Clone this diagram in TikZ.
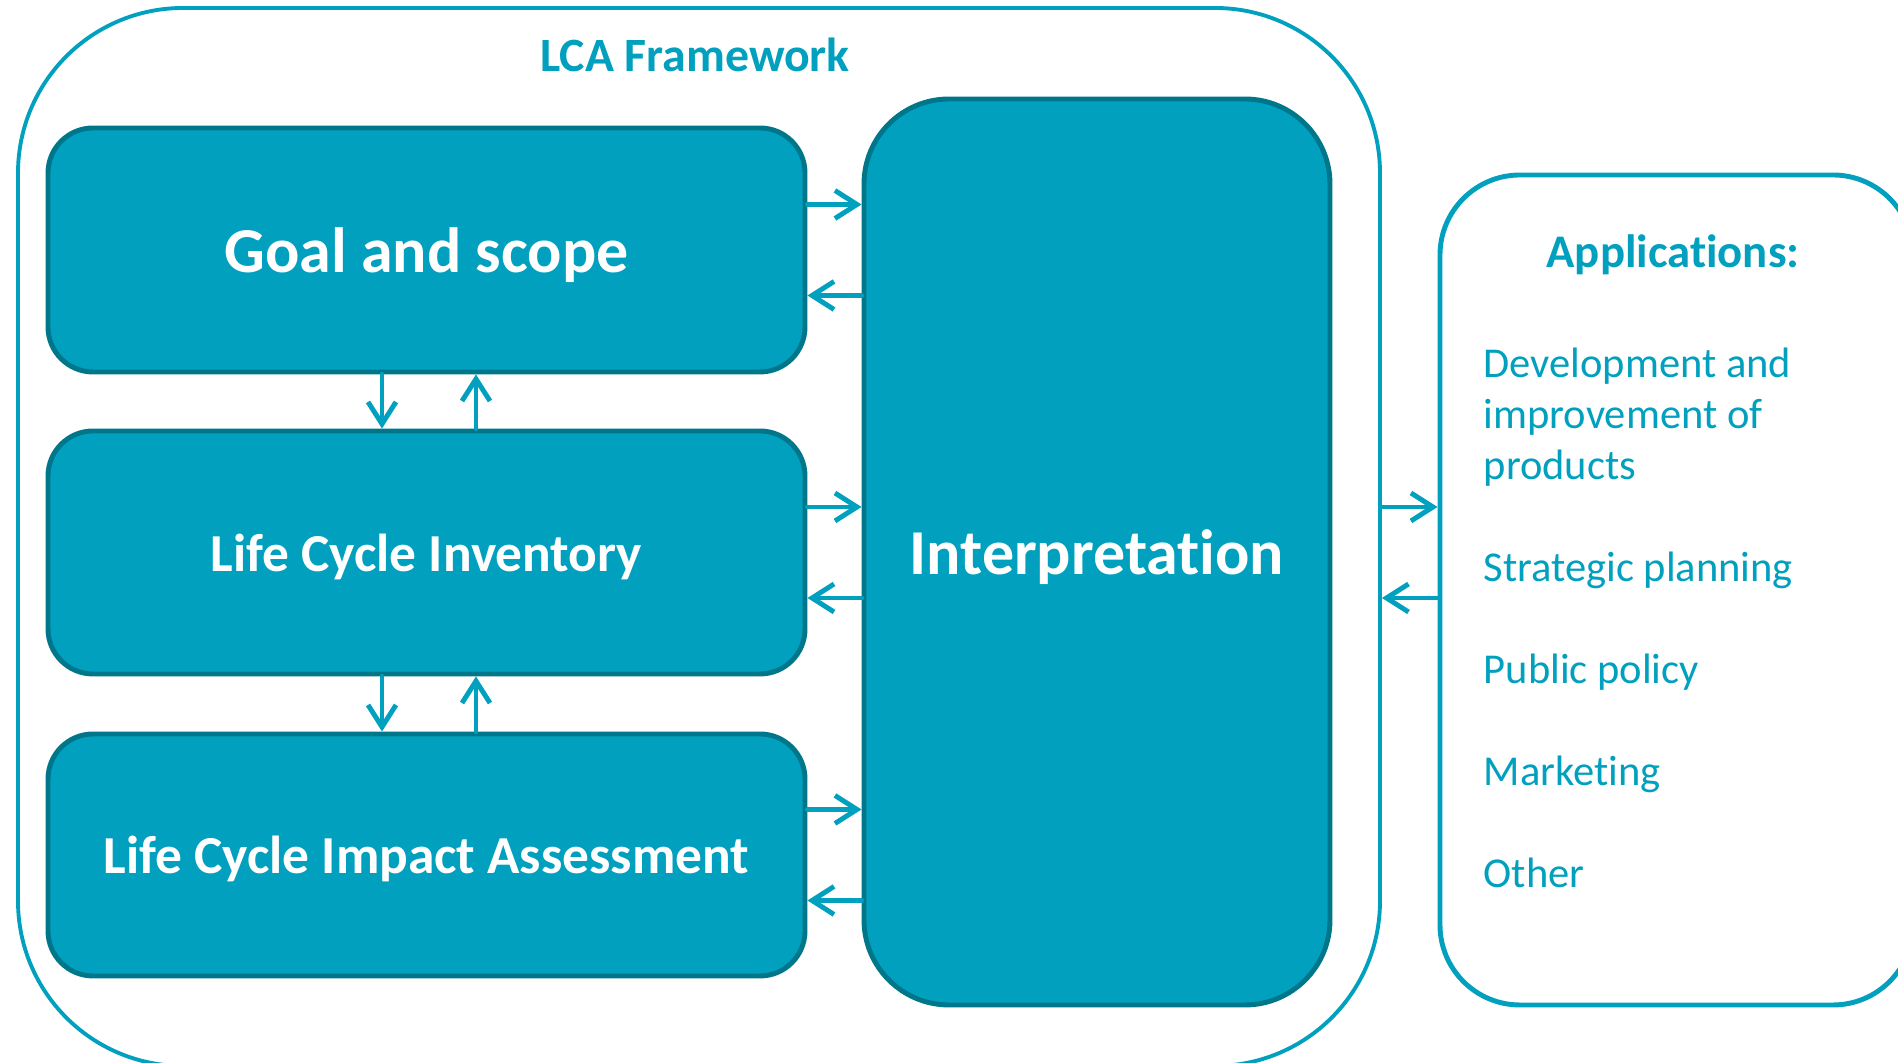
\documentclass[tikz,border=0pt]{standalone}
\usepackage{fontspec}
\setmainfont{Carlito}[Ligatures={NoCommon}]
\usetikzlibrary{arrows.meta}
\definecolor{lcateal}{RGB}{0,160,190}
\definecolor{lcadark}{RGB}{0,118,138}

\begin{document}
\begin{tikzpicture}[
	stage/.style={draw=lcadark, fill=lcateal, line width=1.4pt, text=white, inner sep=0pt, text depth=0pt},
	flow/.style={draw=lcateal, line width=1.4pt, line cap=round, -{Straight Barb[length=2.2mm,width=2.8mm]}},
	item/.style={text=lcateal, font=\fontsize{12.1}{14}\selectfont, inner sep=0pt, anchor=base west}
]
	\useasboundingbox (0,0) rectangle (18.98,10.63);
	\clip (0,0) rectangle (18.98,10.63);
	% outer frame and the applications box
	\node	(frame) at (6.99,5.26) [draw=lcateal, line width=1.1pt, rounded corners=1.65cm, minimum width=13.62cm, minimum height=10.58cm] {};
	\node	(apps) at (16.765,4.73) [draw=lcateal, line width=1.4pt, rounded corners=0.8cm, minimum width=4.73cm, minimum height=8.30cm] {};
	\node	(title) at (6.95,9.91) [anchor=base, text=lcateal, inner sep=0pt, font=\bfseries\fontsize{13.6}{16}\selectfont] {LCA Framework};
	% phases
	\node	(goal) at (4.265,8.13) [stage, rounded corners=0.45cm, minimum width=7.57cm, minimum height=2.44cm, font=\bfseries\fontsize{18.2}{20}\selectfont] {Goal and scope};
	\node	(lci) at (4.265,5.105) [stage, rounded corners=0.45cm, minimum width=7.57cm, minimum height=2.43cm, font=\bfseries\fontsize{15.2}{18}\selectfont] {Life Cycle Inventory};
	\node	(lcia) at (4.265,2.08) [stage, rounded corners=0.45cm, minimum width=7.57cm, minimum height=2.42cm, font=\bfseries\fontsize{15.2}{18}\selectfont] {Life Cycle Impact Assessment};
	\node	(interp) at (10.97,5.11) [stage, rounded corners=0.85cm, minimum width=4.66cm, minimum height=9.06cm, font=\bfseries\fontsize{18.2}{20}\selectfont] {Interpretation};
	% applications text
	\node	(apptitle) at (16.73,7.95) [anchor=base, text=lcateal, inner sep=0pt, font=\bfseries\fontsize{13.3}{16}\selectfont] {Applications:};
	\node	(dev) at (14.83,6.85) [item] {Development and};
	\node	(imp) at (14.83,6.34) [item] {improvement of};
	\node	(prod) at (14.83,5.83) [item] {products};
	\node	(plan) at (14.83,4.81) [item] {Strategic planning};
	\node	(policy) at (14.83,3.79) [item] {Public policy};
	\node	(mark) at (14.83,2.77) [item] {Marketing};
	\node	(other) at (14.83,1.75) [item] {Other};
	% arrows
	\draw[flow] ([yshift=4.55mm]goal.east) -- ([yshift=4.55mm]goal.east -| interp.west);
	\draw[flow] ([yshift=-4.55mm]goal.east -| interp.west) -- ([yshift=-4.55mm]goal.east);
	\draw[flow] ([yshift=4.55mm]lci.east) -- ([yshift=4.55mm]lci.east -| interp.west);
	\draw[flow] ([yshift=-4.55mm]lci.east -| interp.west) -- ([yshift=-4.55mm]lci.east);
	\draw[flow] ([yshift=4.55mm]lcia.east) -- ([yshift=4.55mm]lcia.east -| interp.west);
	\draw[flow] ([yshift=-4.55mm]lcia.east -| interp.west) -- ([yshift=-4.55mm]lcia.east);
	\draw[flow] ([xshift=-4.45mm]goal.south) -- ([xshift=-4.45mm]lci.north);
	\draw[flow] ([xshift=4.95mm]lci.north) -- ([xshift=4.95mm]goal.south);
	\draw[flow] ([xshift=-4.45mm]lci.south) -- ([xshift=-4.45mm]lcia.north);
	\draw[flow] ([xshift=4.95mm]lcia.north) -- ([xshift=4.95mm]lci.south);
	\draw[flow] ([yshift=4.55mm]lci.east -| frame.east) -- ([yshift=4.55mm]lci.east -| apps.west);
	\draw[flow] ([yshift=-4.55mm]lci.east -| apps.west) -- ([yshift=-4.55mm]lci.east -| frame.east);
\end{tikzpicture}
\end{document}
